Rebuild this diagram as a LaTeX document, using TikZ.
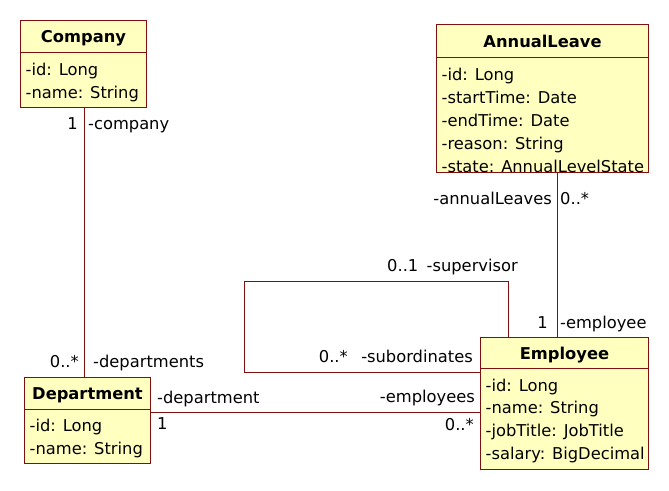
\documentclass[tikz,border=0pt]{standalone}
\usepackage{fontspec}
\setmainfont{DejaVu Sans}
\definecolor{umlfill}{RGB}{255,255,192}
\definecolor{umlline}{RGB}{128,16,16}

\begin{document}
\begin{tikzpicture}[
    x=1pt, y=-1pt,
    font=\fontsize{16.3}{23}\selectfont,
    box/.style={draw=umlline, fill=umlfill, line width=1pt, inner sep=0pt,
      anchor=north west},
    head/.style={box, font=\fontsize{16.3}{23}\selectfont\bfseries,
      text height=12pt, text depth=0pt},
    attr/.style={anchor=base west, inner sep=0pt},
    role/.style={inner sep=0pt},
    assoc/.style={draw=umlline, line width=0.9pt},
  ]
  \useasboundingbox (0,0) rectangle (669,490);

  \def\dl{23}   % interlinea degli attributi

  % ---- Company ---------------------------------------------------------------
  \node[head, minimum width=126pt, minimum height=32pt] (company) at (20,20) {Company};
  \node[box, minimum width=126pt, minimum height=55pt] (company-body) at (20,52) {};
  \foreach \a [count=\k from 0] in {-id: Long,-name: String}
    \node[attr] (company-a\k) at (25.5,{75.5+\k*\dl}) {\a};

  % ---- AnnualLeave -----------------------------------------------------------
  \node[head, minimum width=212pt, minimum height=33pt] (annual) at (436,24) {AnnualLeave};
  \node[box, minimum width=212pt, minimum height=115pt] (annual-body) at (436,57) {};
  \foreach \a [count=\k from 0] in {-id: Long,-startTime: Date,-endTime: Date,
      -reason: String,-state: AnnualLevelState}
    \node[attr] (annual-a\k) at (441.5,{80.5+\k*\dl}) {\a};

  % ---- Department ------------------------------------------------------------
  \node[head, minimum width=126pt, minimum height=32pt] (department) at (24,377) {Department};
  \node[box, minimum width=126pt, minimum height=54pt] (department-body) at (24,409) {};
  \foreach \a [count=\k from 0] in {-id: Long,-name: String}
    \node[attr] (department-a\k) at (29.5,{431.5+\k*\dl}) {\a};

  % ---- Employee --------------------------------------------------------------
  \node[head, minimum width=168pt, minimum height=31pt] (employee) at (480,337) {Employee};
  \node[box, minimum width=168pt, minimum height=101pt] (employee-body) at (480,368) {};
  \foreach \a [count=\k from 0] in {-id: Long,-name: String,-jobTitle: JobTitle,
      -salary: BigDecimal}
    \node[attr] (employee-a\k) at (485.5,{391+\k*22.7}) {\a};

  % ---- punti di passaggio delle associazioni ----------------------------------
  \coordinate (co-dep) at (84,0);
  \coordinate (al-emp) at (557,0);
  \coordinate (dep-emp) at (0,412);
  \coordinate (loop-ne) at (508,281);
  \coordinate (loop-sw) at (244,372);

  % ---- associazioni ------------------------------------------------------------
  \draw[assoc] (company-body.south -| co-dep) -- (department.north -| co-dep);
  \draw[assoc] (annual-body.south -| al-emp) -- (employee.north -| al-emp);
  \draw[assoc] (department-body.east |- dep-emp) -- (employee-body.west |- dep-emp);
  \draw[assoc] (employee.north -| loop-ne) -- (loop-ne) -| (loop-sw)
    -- (employee-body.west |- loop-sw);

  % ---- ruoli e molteplicita' ---------------------------------------------------
  \node[role, anchor=base east] (m-company)     at (78,129)   {1};
  \node[role, anchor=base west] (r-company)     at (88,129)   {-company};
  \node[role, anchor=base east] (m-departments) at (79,367)   {0..*};
  \node[role, anchor=base west] (r-departments) at (93,367)   {-departments};
  \node[role, anchor=base west] (r-department)  at (157,403)  {-department};
  \node[role, anchor=base west] (m-department)  at (157,429)  {1};
  \node[role, anchor=base east] (r-employees)   at (475,402)  {-employees};
  \node[role, anchor=base east] (m-employees)   at (474,430)  {0..*};
  \node[role, anchor=base east] (m-subord)      at (348,362)  {0..*};
  \node[role, anchor=base east] (r-subord)      at (473,362)  {-subordinates};
  \node[role, anchor=base west] (m-supervisor)  at (387,271)  {0..1};
  \node[role, anchor=base east] (r-supervisor)  at (518,271)  {-supervisor};
  \node[role, anchor=base east] (m-employee)    at (548,328)  {1};
  \node[role, anchor=base west] (r-employee)    at (560,328)  {-employee};
  \node[role, anchor=base east] (r-annual)      at (552,204)  {-annualLeaves};
  \node[role, anchor=base west] (m-annual)      at (560,204)  {0..*};

\end{tikzpicture}
\end{document}
